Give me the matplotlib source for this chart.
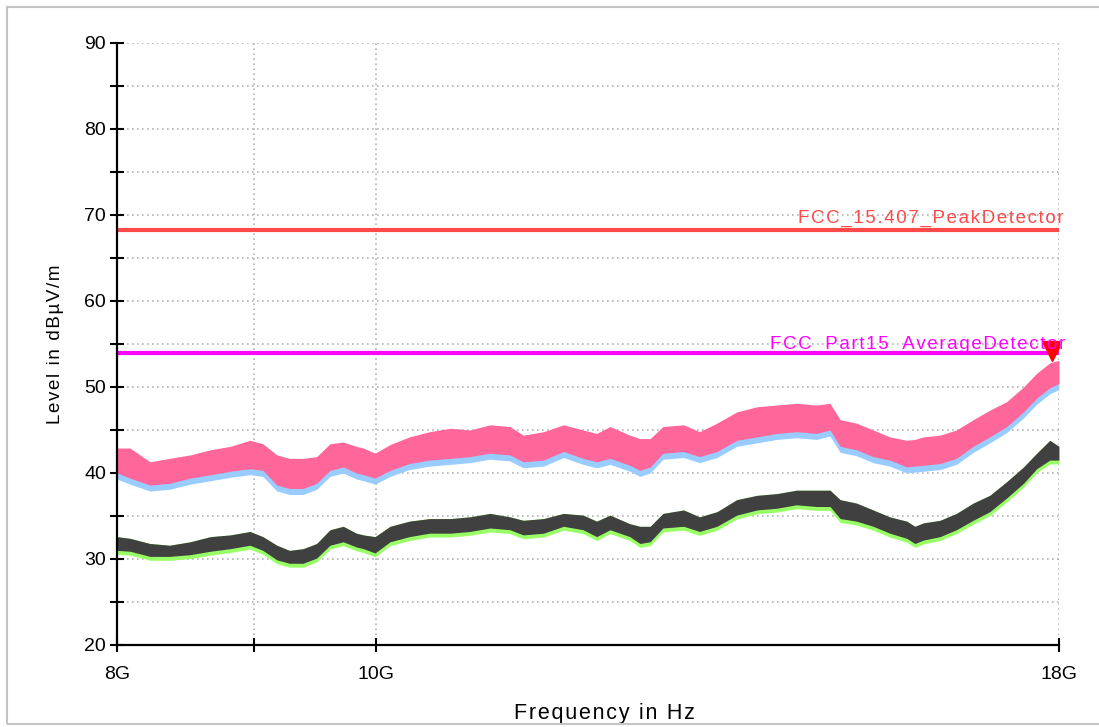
import matplotlib
matplotlib.use("Agg")
import matplotlib.pyplot as plt
from matplotlib.ticker import FixedLocator, NullFormatter
from matplotlib.patches import Rectangle

# frequency points in GHz and trace envelopes in dBuV/m
freq_ghz = [8.00, 8.09, 8.23, 8.37, 8.52, 8.67, 8.82, 8.97, 9.07, 9.18, 9.28, 9.39,
            9.50, 9.61, 9.72, 9.83, 9.89, 9.99, 10.12, 10.29, 10.47, 10.66, 10.84,
            11.03, 11.22, 11.35, 11.55, 11.75, 11.95, 12.09, 12.23, 12.44, 12.55,
            12.66, 12.80, 13.03, 13.21, 13.41, 13.64, 13.88, 14.12, 14.36, 14.61,
            14.78, 14.91, 15.12, 15.34, 15.56, 15.79, 15.90, 16.02, 16.25, 16.48,
            16.72, 16.96, 17.21, 17.46, 17.66, 17.86, 18.00]

# peak detector trace (pink)
peak_lo = [40.0, 39.4, 38.6, 38.8, 39.4, 39.8, 40.2, 40.5, 40.3, 38.6, 38.2, 38.2,
           38.8, 40.3, 40.7, 40.0, 39.8, 39.4, 40.3, 41.1, 41.5, 41.7, 41.9,
           42.3, 42.1, 41.3, 41.5, 42.5, 41.7, 41.3, 41.7, 40.9, 40.3,
           40.7, 42.3, 42.5, 41.9, 42.5, 43.8, 44.2, 44.6, 44.8, 44.6,
           45.0, 43.1, 42.7, 41.9, 41.5, 40.7, 40.8, 40.9, 41.1, 41.7,
           43.1, 44.2, 45.4, 47.1, 48.7, 49.9, 50.4]
peak_hi = [42.9, 42.9, 41.3, 41.7, 42.1, 42.7, 43.1, 43.8, 43.4, 42.1, 41.7, 41.7,
           41.9, 43.4, 43.6, 43.1, 42.9, 42.3, 43.3, 44.2, 44.8, 45.2, 45.0,
           45.6, 45.4, 44.4, 44.8, 45.6, 45.0, 44.6, 45.4, 44.4, 44.0,
           44.0, 45.4, 45.6, 44.8, 45.8, 47.1, 47.7, 47.9, 48.1, 47.9,
           48.1, 46.2, 45.8, 45.0, 44.2, 43.8, 43.9, 44.2, 44.4, 45.0,
           46.2, 47.3, 48.3, 50.0, 51.6, 52.8, 53.1]

# average detector trace (dark grey)
avg_lo = [31.0, 30.9, 30.3, 30.3, 30.5, 30.9, 31.2, 31.6, 31.0, 29.9, 29.5, 29.5,
          30.1, 31.6, 32.0, 31.4, 31.2, 30.7, 32.0, 32.6, 33.0, 33.0, 33.2,
          33.6, 33.4, 32.8, 33.0, 33.8, 33.4, 32.6, 33.4, 32.6, 31.8,
          32.0, 33.6, 33.8, 33.2, 33.8, 35.1, 35.7, 35.9, 36.3, 36.1,
          36.1, 34.7, 34.4, 33.8, 33.0, 32.4, 31.8, 32.2, 32.6, 33.4,
          34.5, 35.5, 37.1, 38.8, 40.5, 41.5, 41.5]
avg_hi = [32.6, 32.4, 31.8, 31.6, 32.0, 32.6, 32.8, 33.2, 32.6, 31.6, 31.0, 31.2,
          31.8, 33.4, 33.8, 33.0, 32.8, 32.6, 33.8, 34.4, 34.7, 34.7, 34.9,
          35.3, 34.9, 34.5, 34.7, 35.3, 35.1, 34.4, 35.1, 34.1, 33.8,
          33.8, 35.3, 35.7, 34.9, 35.5, 36.9, 37.4, 37.6, 38.0, 38.0,
          38.0, 36.9, 36.5, 35.7, 34.9, 34.4, 33.8, 34.2, 34.5, 35.3,
          36.5, 37.4, 39.0, 40.7, 42.3, 43.8, 43.1]

peak_limit = 68.2
avg_limit = 54.0
marker_freq_ghz = 17.9
marker_level = 54.2

freq = [f * 1e9 for f in freq_ghz]


def spaced(s):
    # the instrument software draws its labels with a little letter spacing
    return "\u200a".join(s)


plt.rcParams["font.family"] = ["Liberation Sans", "DejaVu Sans"]

fig = plt.figure(figsize=(10.99, 7.27), dpi=100)
ax = fig.add_axes([0.1065, 0.1128, 0.857, 0.8281])

# light grey frame around the whole plot window
fig.patches.append(Rectangle((0.0065, 0.004), 1.2, 0.987, transform=fig.transFigure,
                             fill=False, edgecolor="#c4c4c4", linewidth=1.5))

# previous sweep underlays peek out below, then the current traces on top
ax.fill_between(freq, [v - 0.7 for v in peak_lo], [v - 0.2 for v in peak_hi],
                color="#99ccff", linewidth=0)
ax.fill_between(freq, peak_lo, peak_hi, color="#ff6699", linewidth=0)
ax.fill_between(freq, [v - 0.45 for v in avg_lo], avg_hi,
                color="#99ff66", linewidth=0)
ax.fill_between(freq, avg_lo, avg_hi, color="#404040", linewidth=0)

# limit lines
ax.plot([freq[0], freq[-1]], [peak_limit, peak_limit], color="#ff4a4a", lw=3)
ax.plot([freq[0], freq[-1]], [avg_limit, avg_limit], color="#ff00ff", lw=3)
ax.text(18.07e9, peak_limit + 0.35, spaced("FCC_15.407_PeakDetector"), color="#ff4a4a",
        fontsize=13.5, ha="right", va="bottom")
ax.text(18.1e9, avg_limit - 0.1, spaced("FCC_Part15_AverageDetector"), color="#ff00ff",
        fontsize=13.5, ha="right", va="bottom")

ax.plot([marker_freq_ghz * 1e9], [marker_level], marker="v", color="#ff0000",
        markersize=14, linestyle="none")

ax.set_xscale("log")
ax.set_xlim(8e9, 18e9)
ax.set_ylim(20, 90)

ax.xaxis.set_major_locator(FixedLocator([8e9, 9e9, 10e9, 18e9]))
ax.xaxis.set_minor_locator(FixedLocator([]))
ax.xaxis.set_minor_formatter(NullFormatter())
ax.set_xticklabels(["8G", "", "10G", "18G"])
ax.set_yticks(range(20, 91, 10))
ax.set_yticks(range(25, 90, 10), minor=True)

ax.grid(True, which="both", color="#b4b4b4", linestyle=(0, (1, 2)), linewidth=1.2)
ax.set_axisbelow(True)

for side in ["top", "right"]:
    ax.spines[side].set_visible(False)
for side in ["left", "bottom"]:
    ax.spines[side].set_linewidth(1.6)
    ax.spines[side].set_zorder(5)

ax.tick_params(axis="both", which="both", direction="inout", length=10, width=1.5,
               labelsize=14, color="black")
ax.tick_params(axis="x", pad=10)
ax.tick_params(axis="y", pad=3)

ax.set_ylabel(spaced("Level in dBµV/m"), fontsize=13.5)
ax.yaxis.set_label_coords(-0.056, 0.5)
ax.set_xlabel(spaced("Frequency in Hz"), fontsize=15.5)
ax.xaxis.set_label_coords(0.518, -0.096)

plt.savefig("out.png", dpi=100)
plt.close()
